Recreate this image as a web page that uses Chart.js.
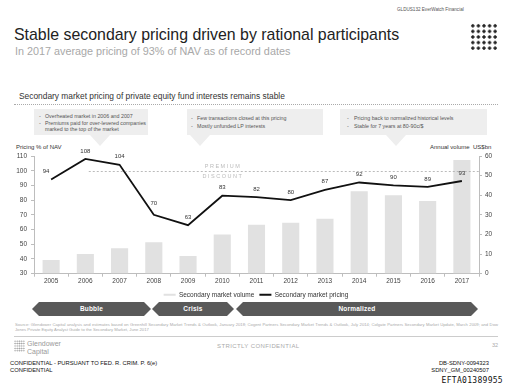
<!DOCTYPE html>
<html>
<head>
<meta charset="utf-8">
<script src="https://cdn.jsdelivr.net/npm/chart.js@4.4.0/dist/chart.umd.min.js"></script>
<style>
body{margin:0;width:512px;height:388px;position:relative;overflow:hidden;background:#fff;font-family:"Liberation Sans",Arial,sans-serif;}
.t{position:absolute;white-space:nowrap;line-height:1;}
.box{position:absolute;top:109px;height:38px;background:#eeeeee;}
.box .b{position:absolute;font-size:5.3px;color:#555;line-height:1;white-space:nowrap;}
.arrow{position:absolute;top:302px;height:14px;background:#595959;color:#fff;font-weight:bold;font-size:6.5px;line-height:14px;text-align:center;letter-spacing:0.2px;
  clip-path:polygon(0 50%,7px 0,calc(100% - 7px) 0,100% 50%,calc(100% - 7px) 100%,7px 100%);}
#wrap{position:absolute;left:0;top:140px;width:512px;height:168px;}
.logo{position:absolute;background-image:radial-gradient(circle,#222 1.4px,transparent 1.7px);background-size:5.6px 5.6px;}
</style>
</head>
<body>
<div class="t" style="left:397px;top:8px;font-size:4.6px;color:#555;">GLDUS132 EverWatch Financial</div>
<div class="t" style="left:14px;top:27px;font-size:15.9px;color:#222;">Stable secondary pricing driven by rational participants</div>
<div class="t" style="left:15px;top:46px;font-size:10.8px;color:#a8a8a8;">In 2017 average pricing of 93% of NAV as of record dates</div>
<div class="logo" style="left:470px;top:23px;width:28px;height:28px;"></div>

<div class="t" style="left:19px;top:92px;font-size:8.4px;color:#333;">Secondary market pricing of private equity fund interests remains stable</div>
<div style="position:absolute;left:14px;top:104px;width:484px;border-top:1px dotted #aaa;"></div>

<div class="box" style="left:34px;width:114px;clip-path:polygon(0 0,100% 0,100% 26px,76px 26px,66px 37px,56px 26px,0 26px);">
  <div class="b" style="left:5px;top:5px;">-</div><div class="b" style="left:11px;top:5px;">Overheated market in 2006 and 2007</div>
  <div class="b" style="left:5px;top:12px;">-</div><div class="b" style="left:11px;top:12px;">Premiums paid for over-levered companies</div>
  <div class="b" style="left:11px;top:17.5px;">marked to the top of the market</div>
</div>
<div class="box" style="left:187px;width:136px;clip-path:polygon(0 0,100% 0,100% 26px,23px 26px,13px 37px,3px 26px,0 26px);">
  <div class="b" style="left:4px;top:7px;">-</div><div class="b" style="left:10px;top:7px;">Few transactions closed at this pricing</div>
  <div class="b" style="left:4px;top:15px;">-</div><div class="b" style="left:10px;top:15px;">Mostly unfunded LP interests</div>
</div>
<div class="box" style="left:340px;width:147px;clip-path:polygon(0 0,100% 0,100% 26px,66px 26px,56px 37px,46px 26px,0 26px);">
  <div class="b" style="left:7px;top:7px;">-</div><div class="b" style="left:14px;top:7px;">Pricing back to normalized historical levels</div>
  <div class="b" style="left:7px;top:15px;">-</div><div class="b" style="left:14px;top:15px;">Stable for 7 years at 80-90c/$</div>
</div>

<div class="t" style="left:16px;top:144px;font-size:6px;color:#333;">Pricing % of NAV</div>
<div class="t" style="left:430px;top:144px;font-size:6px;color:#333;">Annual volume&nbsp; US$bn</div>

<div id="wrap"><canvas id="chart"></canvas></div>

<div class="arrow" style="left:32px;width:119px;">Bubble</div>
<div class="arrow" style="left:152px;width:82px;">Crisis</div>
<div class="arrow" style="left:236px;width:242px;">Normalized</div>

<div class="t" style="left:15px;top:322px;width:483px;font-size:4.2px;color:#aaa;white-space:normal;line-height:5px;text-align:justify;">Source: Glendower Capital analysis and estimates based on Greenhill Secondary Market Trends &amp; Outlook, January 2018; Cogent Partners Secondary Market Trends &amp; Outlook, July 2014; Colgate Partners Secondary Market Update, March 2009; and Dow Jones Private Equity Analyst Guide to the Secondary Market, June 2017</div>
<div style="position:absolute;left:14px;top:336px;width:484px;border-top:1px solid #ccc;"></div>

<div class="logo" style="left:14px;top:340px;width:11px;height:12px;background-image:radial-gradient(circle,#999 0.6px,transparent 0.9px);background-size:2.2px 2.4px;"></div>
<div class="t" style="left:27px;top:340px;font-size:7px;color:#999;">Glendower</div>
<div class="t" style="left:27px;top:348px;font-size:7px;color:#999;">Capital</div>
<div class="t" style="left:217px;top:343px;font-size:6px;color:#aaa;letter-spacing:0.4px;">STRICTLY CONFIDENTIAL</div>
<div class="t" style="left:492px;top:343px;font-size:5.5px;color:#aaa;">32</div>

<div class="t" style="left:10px;top:361px;font-size:5.8px;color:#111;">CONFIDENTIAL - PURSUANT TO FED. R. CRIM. P. 6(e)</div>
<div class="t" style="left:10px;top:368px;font-size:5.8px;color:#111;">CONFIDENTIAL</div>
<div class="t" style="right:23px;top:361px;font-size:5.8px;color:#111;">DB-SDNY-0094323</div>
<div class="t" style="right:23px;top:368px;font-size:5.8px;color:#111;">SDNY_GM_00240507</div>
<div class="t" style="right:9px;top:377px;font-size:8px;color:#111;font-family:'DejaVu Sans Mono',monospace;letter-spacing:0.3px;">EFTA01389955</div>

<script>
const years = ['2005', '2006', '2007', '2008', '2009', '2010', '2011', '2012', '2013', '2014', '2015', '2016', '2017'];
const volume = [7, 10, 13, 16, 9, 20, 25, 26, 28, 42, 40, 37, 58];
const pricing = [94, 108, 104, 70, 63, 83, 82, 80, 87, 92, 90, 89, 93];
const parLine = 100;

const tickFont = {family: 'Liberation Sans', size: 6.5};
const axisGrey = '#bdbdbd';

// dashed premium / discount line and the point labels
const extras = {
    id: 'extras',
    afterDatasetsDraw(chart) {
        const c = chart.ctx;
        const x = chart.scales.x;
        const y = chart.scales.y;
        const py = Math.round(y.getPixelForValue(parLine)) + 0.5;
        c.save();
        c.strokeStyle = '#aaa';
        c.lineWidth = 0.8;
        c.setLineDash([2, 2]);
        c.beginPath();
        c.moveTo(x.getPixelForValue(1.1), py);
        c.lineTo(chart.chartArea.right, py);
        c.stroke();
        c.setLineDash([]);
        c.fillStyle = '#bbb';
        c.font = '5.5px "Liberation Sans"';
        c.textAlign = 'center';
        c.textBaseline = 'middle';
        const mx = x.getPixelForValue(5);
        c.fillText('P R E M I U M', mx, py - 5);
        c.fillText('D I S C O U N T', mx, py + 5);

        c.fillStyle = '#333';
        c.font = '6px "Liberation Sans"';
        pricing.forEach((v, i) => {
            const lx = x.getPixelForValue(i) - (i === 0 ? 5 : 0);
            const ly = y.getPixelForValue(v) - (i === 3 ? 12 : 8);
            c.fillText(String(v), lx, ly);
        });
        c.restore();
    }
};

new Chart(document.getElementById('chart'), {
    type: 'bar',
    data: {
        labels: years,
        datasets: [
            {
                type: 'bar',
                label: 'Secondary market volume',
                data: volume,
                yAxisID: 'y2',
                backgroundColor: '#e1e1e1',
                borderWidth: 0,
                barPercentage: 0.5,
                categoryPercentage: 1,
                order: 1
            },
            {
                type: 'line',
                label: 'Secondary market pricing',
                data: pricing,
                yAxisID: 'y',
                borderColor: '#111',
                backgroundColor: '#111',
                borderWidth: 1.8,
                pointRadius: 0,
                tension: 0,
                order: 0
            }
        ]
    },
    options: {
        responsive: true,
        maintainAspectRatio: false,
        animation: false,
        layout: {padding: {top: 16, left: 0, right: 0, bottom: 0}},
        plugins: {
            tooltip: {enabled: false},
            legend: {
                position: 'bottom',
                labels: {
                    font: {family: 'Liberation Sans', size: 6.5},
                    color: '#333',
                    boxWidth: 12,
                    boxHeight: 2,
                    padding: 5,
                    sort: (a, b) => a.datasetIndex - b.datasetIndex,
                    generateLabels: (chart) => Chart.defaults.plugins.legend.labels.generateLabels(chart).map(l => {
                        l.lineWidth = 0;
                        return l;
                    })
                }
            }
        },
        scales: {
            x: {
                offset: true,
                grid: {display: true, drawOnChartArea: false, tickLength: 3, color: axisGrey},
                border: {color: axisGrey},
                ticks: {font: tickFont, color: '#444', padding: 1, maxRotation: 0}
            },
            y: {
                position: 'left',
                min: 30,
                max: 110,
                afterFit: (s) => { s.width = 34; },
                grid: {display: true, drawOnChartArea: false, tickLength: 3, color: axisGrey},
                border: {color: axisGrey},
                ticks: {stepSize: 10, font: tickFont, color: '#444', padding: 4}
            },
            y2: {
                position: 'right',
                min: 0,
                max: 60,
                afterFit: (s) => { s.width = 33; },
                grid: {display: true, drawOnChartArea: false, tickLength: 3, color: axisGrey},
                border: {color: axisGrey},
                ticks: {stepSize: 5, font: tickFont, color: '#444', padding: 3}
            }
        }
    },
    plugins: [extras]
});
</script>
</body>
</html>
